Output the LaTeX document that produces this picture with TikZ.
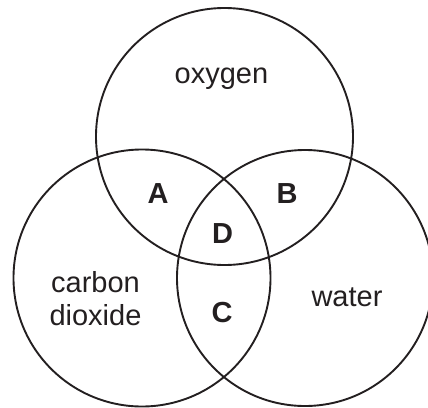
\documentclass[tikz,border=0pt]{standalone}
\usepackage{fontspec}
\setmainfont{Liberation Sans}
\definecolor{ink}{HTML}{231F20}
\begin{document}
\begin{tikzpicture}[x=1pt,y=-1pt,
  ring/.style={draw=ink,line width=1.9pt},
  lbl/.style={text=ink,font=\fontsize{29}{33}\selectfont,anchor=base,inner sep=0pt,align=center},
  zone/.style={text=ink,font=\fontsize{29}{33}\selectfont\bfseries,anchor=base,inner sep=0pt}]
\useasboundingbox (0,0) rectangle (428,407);
\node[ring,circle,minimum size=257pt,inner sep=0pt] (oxy) at (224.5,136.5) {};
\node[ring,circle,minimum size=257pt,inner sep=0pt] (co2) at (142,278) {};
\node[ring,circle,minimum size=256pt,inner sep=0pt] (wat) at (305,278) {};
\node[lbl] (toxy) at (221.5,83) {oxygen};
\node[lbl] (tco2) at (95.5,325) {carbon\\dioxide};
\node[lbl] (twat) at (347,306) {water};
\node[zone] (A) at (158,203) {A};
\node[zone] (B) at (287,203) {B};
\node[zone] (D) at (222.5,243) {D};
\node[zone] (C) at (222,322) {C};
\end{tikzpicture}
\end{document}
